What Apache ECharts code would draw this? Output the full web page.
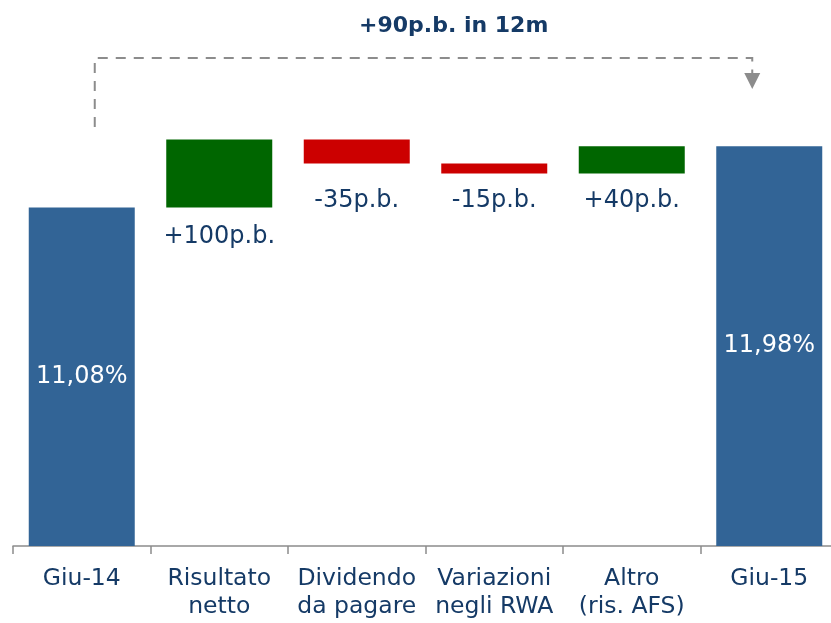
<!DOCTYPE html>
<html><head><meta charset="utf-8">
<script src="https://cdn.jsdelivr.net/npm/echarts@6/dist/echarts.min.js"></script>
<style>html,body{margin:0;padding:0;background:#fff;overflow:hidden}#c{width:838px;height:623px}</style>
</head><body><div id="c"></div>
<script>
// ---- data ----
const categories = ['Giu-14', 'Risultato\nnetto', 'Dividendo\nda pagare', 'Variazioni\nnegli RWA', 'Altro\n(ris. AFS)', 'Giu-15'];
const startValue = 11.08;
const endValue = 11.98;
const changesBp = [100, -35, -15, 40];
const valueLabels = ['11,08%', '+100p.b.', '-35p.b.', '-15p.b.', '+40p.b.', '11,98%'];
const titleText = '+90p.b. in 12m';

// ---- styles ----
const BLUE = '#326496', GREEN = '#006600', RED = '#cc0000', NAVY = '#153a66', GREY = '#8c8c8c';
const FONT = 'DejaVu Sans';
const labelDistance = [0, 17, 25, 15, 15, 0];

// ---- build waterfall ----
const base = [], bars = [];
base.push(0);
bars.push({ value: startValue, itemStyle: { color: BLUE },
  label: { show: true, position: 'inside', color: '#fff', formatter: valueLabels[0] } });
let level = startValue;
changesBp.forEach((bp, i) => {
  const next = level + bp / 100;
  base.push(Math.min(level, next));
  bars.push({ value: Math.abs(next - level), itemStyle: { color: bp >= 0 ? GREEN : RED },
    label: { show: true, position: 'bottom', distance: labelDistance[i + 1], color: NAVY, formatter: valueLabels[i + 1] } });
  level = next;
});
base.push(0);
bars.push({ value: endValue, itemStyle: { color: BLUE },
  label: { show: true, position: 'inside', color: '#fff', formatter: valueLabels[5] } });

const chart = echarts.init(document.getElementById('c'), null, { renderer: 'canvas' });
chart.setOption({
  animation: false,
  textStyle: { fontFamily: FONT },
  title: { text: titleText, left: 354, top: 10,
    textStyle: { fontFamily: FONT, fontSize: 22, fontWeight: 'bold', color: NAVY } },
  grid: { left: 13, right: 0, top: 111, bottom: 77, containLabel: false },
  xAxis: {
    type: 'category', data: categories,
    axisLine: { lineStyle: { color: GREY, width: 1.5 } },
    axisTick: { show: true, length: 8, lineStyle: { color: GREY, width: 1.5 } },
    axisLabel: { color: NAVY, fontSize: 23.5, fontFamily: FONT, lineHeight: 28, margin: 19, interval: 0 }
  },
  yAxis: { type: 'value', min: 6.105, max: 12.5, show: false, splitLine: { show: false } },
  series: [
    { type: 'bar', stack: 'w', data: base, barWidth: 106, itemStyle: { color: 'transparent' }, silent: true },
    { type: 'bar', stack: 'w', data: bars, barWidth: 106,
      label: { fontSize: 24, lineHeight: 25, fontFamily: FONT } }
  ]
});

// dashed connector between the two totals
const x0 = chart.convertToPixel({ xAxisIndex: 0 }, 0) + 13;
const x1 = chart.convertToPixel({ xAxisIndex: 0 }, 5) - 17;
const yTop = 58, yLeftEnd = 127, yArrowStart = 73, yArrowTip = 89;
chart.setOption({
  graphic: [
    { type: 'polyline', shape: { points: [[x0, yLeftEnd], [x0, yTop], [x1, yTop], [x1, yArrowStart]] },
      style: { stroke: GREY, lineWidth: 2, lineDash: [10, 8], fill: null } },
    { type: 'polygon', shape: { points: [[x1 - 8, yArrowStart], [x1 + 8, yArrowStart], [x1, yArrowTip]] },
      style: { fill: GREY } }
  ]
});
</script>
</body></html>
